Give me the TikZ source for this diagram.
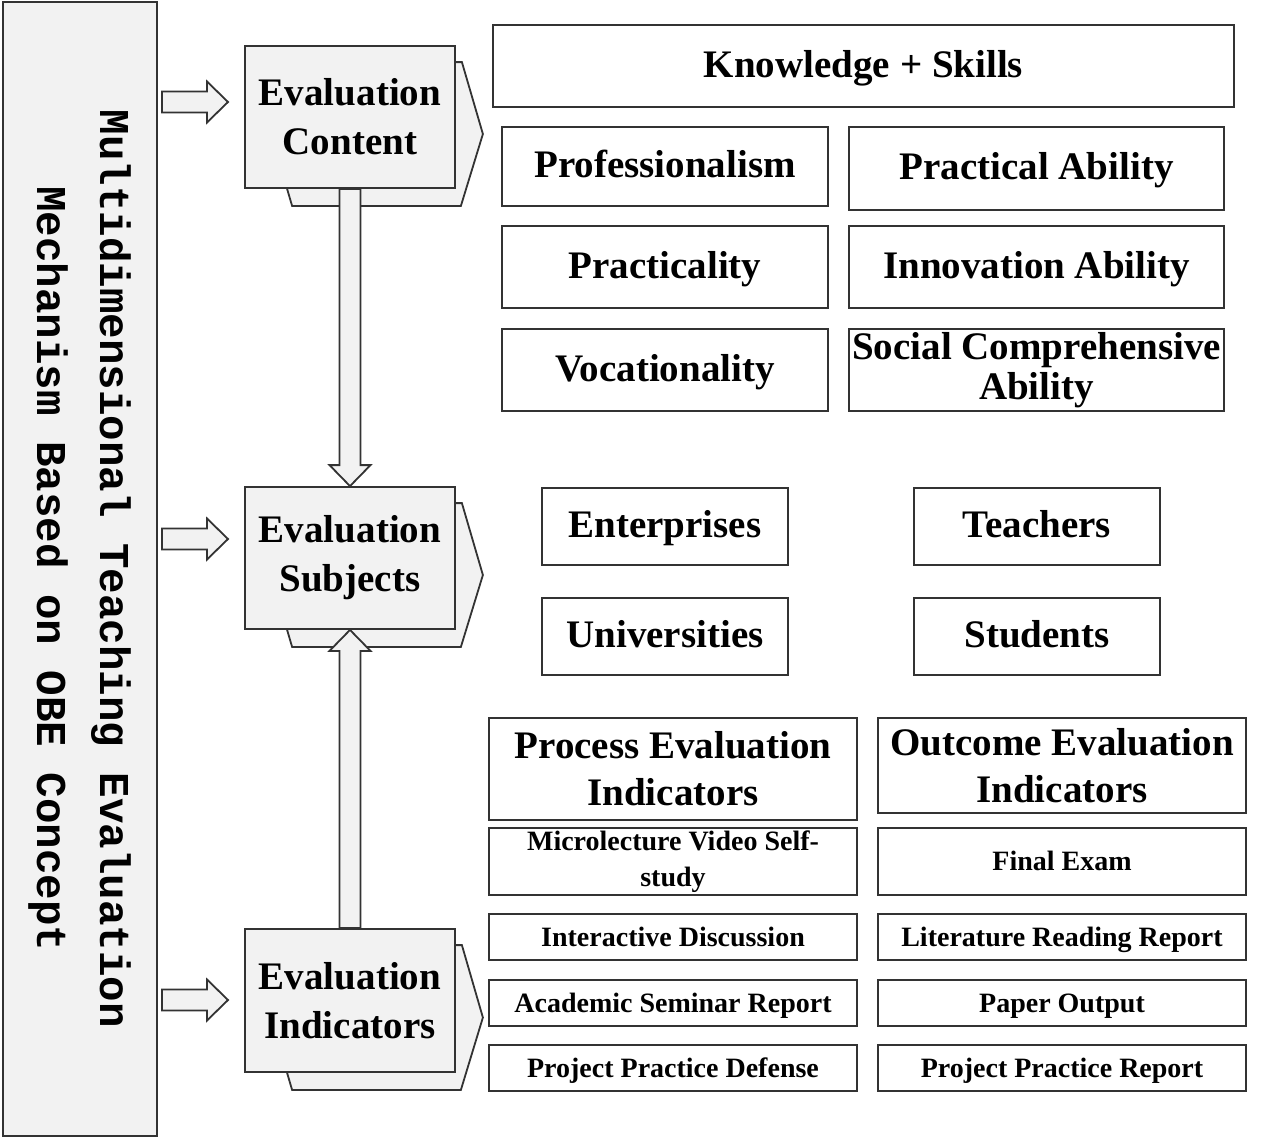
\documentclass[tikz,border=0pt]{standalone}
\usepackage{fontspec}
\setmainfont{Liberation Serif}
\newfontfamily\monofont{Liberation Mono}
\usetikzlibrary{positioning, calc, backgrounds}

\definecolor{boxgray}{HTML}{F2F2F2}
\definecolor{linegray}{HTML}{333333}

\tikzset{
  multibox/.style={draw=linegray, line width=1.8pt, fill=white, align=center, inner sep=2pt,
    font=\bfseries\fontsize{39}{40}\selectfont},
  itembox/.style={multibox, text height=28pt, text depth=6pt},
  smallbox/.style={multibox, minimum width=368pt, text height=20pt, text depth=1.5pt,
    font=\bfseries\fontsize{28}{36}\selectfont},
  stagebox/.style={draw=linegray, line width=1.8pt, fill=boxgray, minimum width=210pt,
    minimum height=142pt, align=center, font=\bfseries\fontsize{39}{49}\selectfont},
  stageback/.style={draw=linegray, line width=1.8pt, fill=boxgray},
  arrowbody/.style={draw=linegray, line width=1.8pt, fill=boxgray, line join=miter},
}

% block arrow from #1 (tail) to #2 (tip)
\newcommand{\blockarrow}[2]{%
  \coordinate (ab) at ($(#2)!21pt!(#1)$);
  \draw[arrowbody] ($(#1)!10.5pt!90:(#2)$) -- ($(ab)!10.5pt!90:(#2)$) -- ($(ab)!20.5pt!90:(#2)$)
    -- (#2) -- ($(ab)!20.5pt!-90:(#2)$) -- ($(ab)!10.5pt!-90:(#2)$) -- ($(#1)!10.5pt!-90:(#2)$) -- cycle;}

% chevron behind a stage box
\newcommand{\stageshadow}[1]{%
  \begin{scope}[on background layer]
    \draw[stageback] ($(#1.north east)+(0,17)$) -- ($(#1.north east)+(6,17)$) -- ($(#1.east)+(27,17)$)
      -- ($(#1.south east)+(5,17)$) -- ($(#1.south west)+(48,17)$) -- ($(#1.south west)+(43,0)$) -- cycle;
  \end{scope}}

\begin{document}
\begin{tikzpicture}[x=1pt, y=-1pt]
	\useasboundingbox (0,0) rectangle (1269,1138);
	
	% left panel
	\node[draw=linegray, line width=1.5pt, fill=boxgray, minimum width=154pt, minimum height=1134pt] (panel) at (80,569) {};
	\node[rotate=-90, align=center, font=\monofont\bfseries\fontsize{42.5}{63}\selectfont] (title) at (panel.center)
		{Multidimensional Teaching Evaluation\\Mechanism Based on OBE Concept};
	
	% stages
	\node[stagebox] (content) at (350,117) {Evaluation\\Content};
	\node[stagebox] (subjects) at (350,558) {Evaluation\\Subjects};
	\node[stagebox, minimum height=143pt] (indicators) at (350,1000.5) {Evaluation\\Indicators};
	\stageshadow{content}
	\stageshadow{subjects}
	\stageshadow{indicators}
	
	% arrows
	\coordinate (t1) at (162,102);  \coordinate (h1) at (228,102);
	\coordinate (t2) at (162,539);  \coordinate (h2) at (228,539);
	\coordinate (t3) at (162,1000); \coordinate (h3) at (228,1000);
	\blockarrow{t1}{h1}
	\blockarrow{t2}{h2}
	\blockarrow{t3}{h3}
	\blockarrow{content.south}{subjects.north}
	\blockarrow{indicators.north}{subjects.south}
	
	% content items
	\node[itembox, minimum width=741pt, minimum height=82pt] (knowskill) at (863.5,66) {Knowledge + Skills};
	\node[itembox, minimum width=326pt, minimum height=79pt] (prof) at (665,166.5) {Professionalism};
	\node[itembox, minimum width=375pt, minimum height=83pt] (practab) at (1036.5,168.5) {Practical Ability};
	\node[itembox, minimum width=326pt, minimum height=82pt] (practy) at (665,267) {Practicality};
	\node[itembox, minimum width=375pt, minimum height=82pt] (innov) at (1036.5,267) {Innovation Ability};
	\node[itembox, minimum width=326pt, minimum height=82pt] (vocat) at (665,370) {Vocationality};
	\node[multibox, minimum width=375pt, minimum height=82pt, inner sep=0pt] (social) at (1036.5,370) {Social Comprehensive\\Ability};
	
	% subject items
	\node[itembox, minimum width=246pt, minimum height=77pt] (enterp) at (665,526.5) {Enterprises};
	\node[itembox, minimum width=246pt, minimum height=77pt] (teach) at (1037,526.5) {Teachers};
	\node[itembox, minimum width=246pt, minimum height=77pt] (univ) at (665,636.5) {Universities};
	\node[itembox, minimum width=246pt, minimum height=77pt] (stud) at (1037,636.5) {Students};
	
	% indicator items
	\node[multibox, minimum width=368pt, minimum height=102pt, font=\bfseries\fontsize{39}{47}\selectfont] (procind) at (673,769) {Process Evaluation\\Indicators};
	\node[multibox, minimum width=368pt, minimum height=95pt, font=\bfseries\fontsize{39}{47}\selectfont] (outind) at (1062,765.5) {Outcome Evaluation\\Indicators};
	\node[multibox, minimum width=368pt, minimum height=67pt, font=\bfseries\fontsize{28}{36}\selectfont] (microvid) at (673,861.5) {Microlecture Video Self-\\study};
	\node[smallbox, minimum height=67pt] (finexam) at (1062,861.5) {Final Exam};
	\node[smallbox, minimum height=46pt] (interdisc) at (673,937) {Interactive Discussion};
	\node[smallbox, minimum height=46pt] (litread) at (1062,937) {Literature Reading Report};
	\node[smallbox, minimum height=46pt] (seminar) at (673,1003) {Academic Seminar Report};
	\node[smallbox, minimum height=46pt] (paperout) at (1062,1003) {Paper Output};
	\node[smallbox, minimum height=46pt] (projdef) at (673,1068) {Project Practice Defense};
	\node[smallbox, minimum height=46pt] (projrep) at (1062,1068) {Project Practice Report};
	
\end{tikzpicture}
\end{document}
